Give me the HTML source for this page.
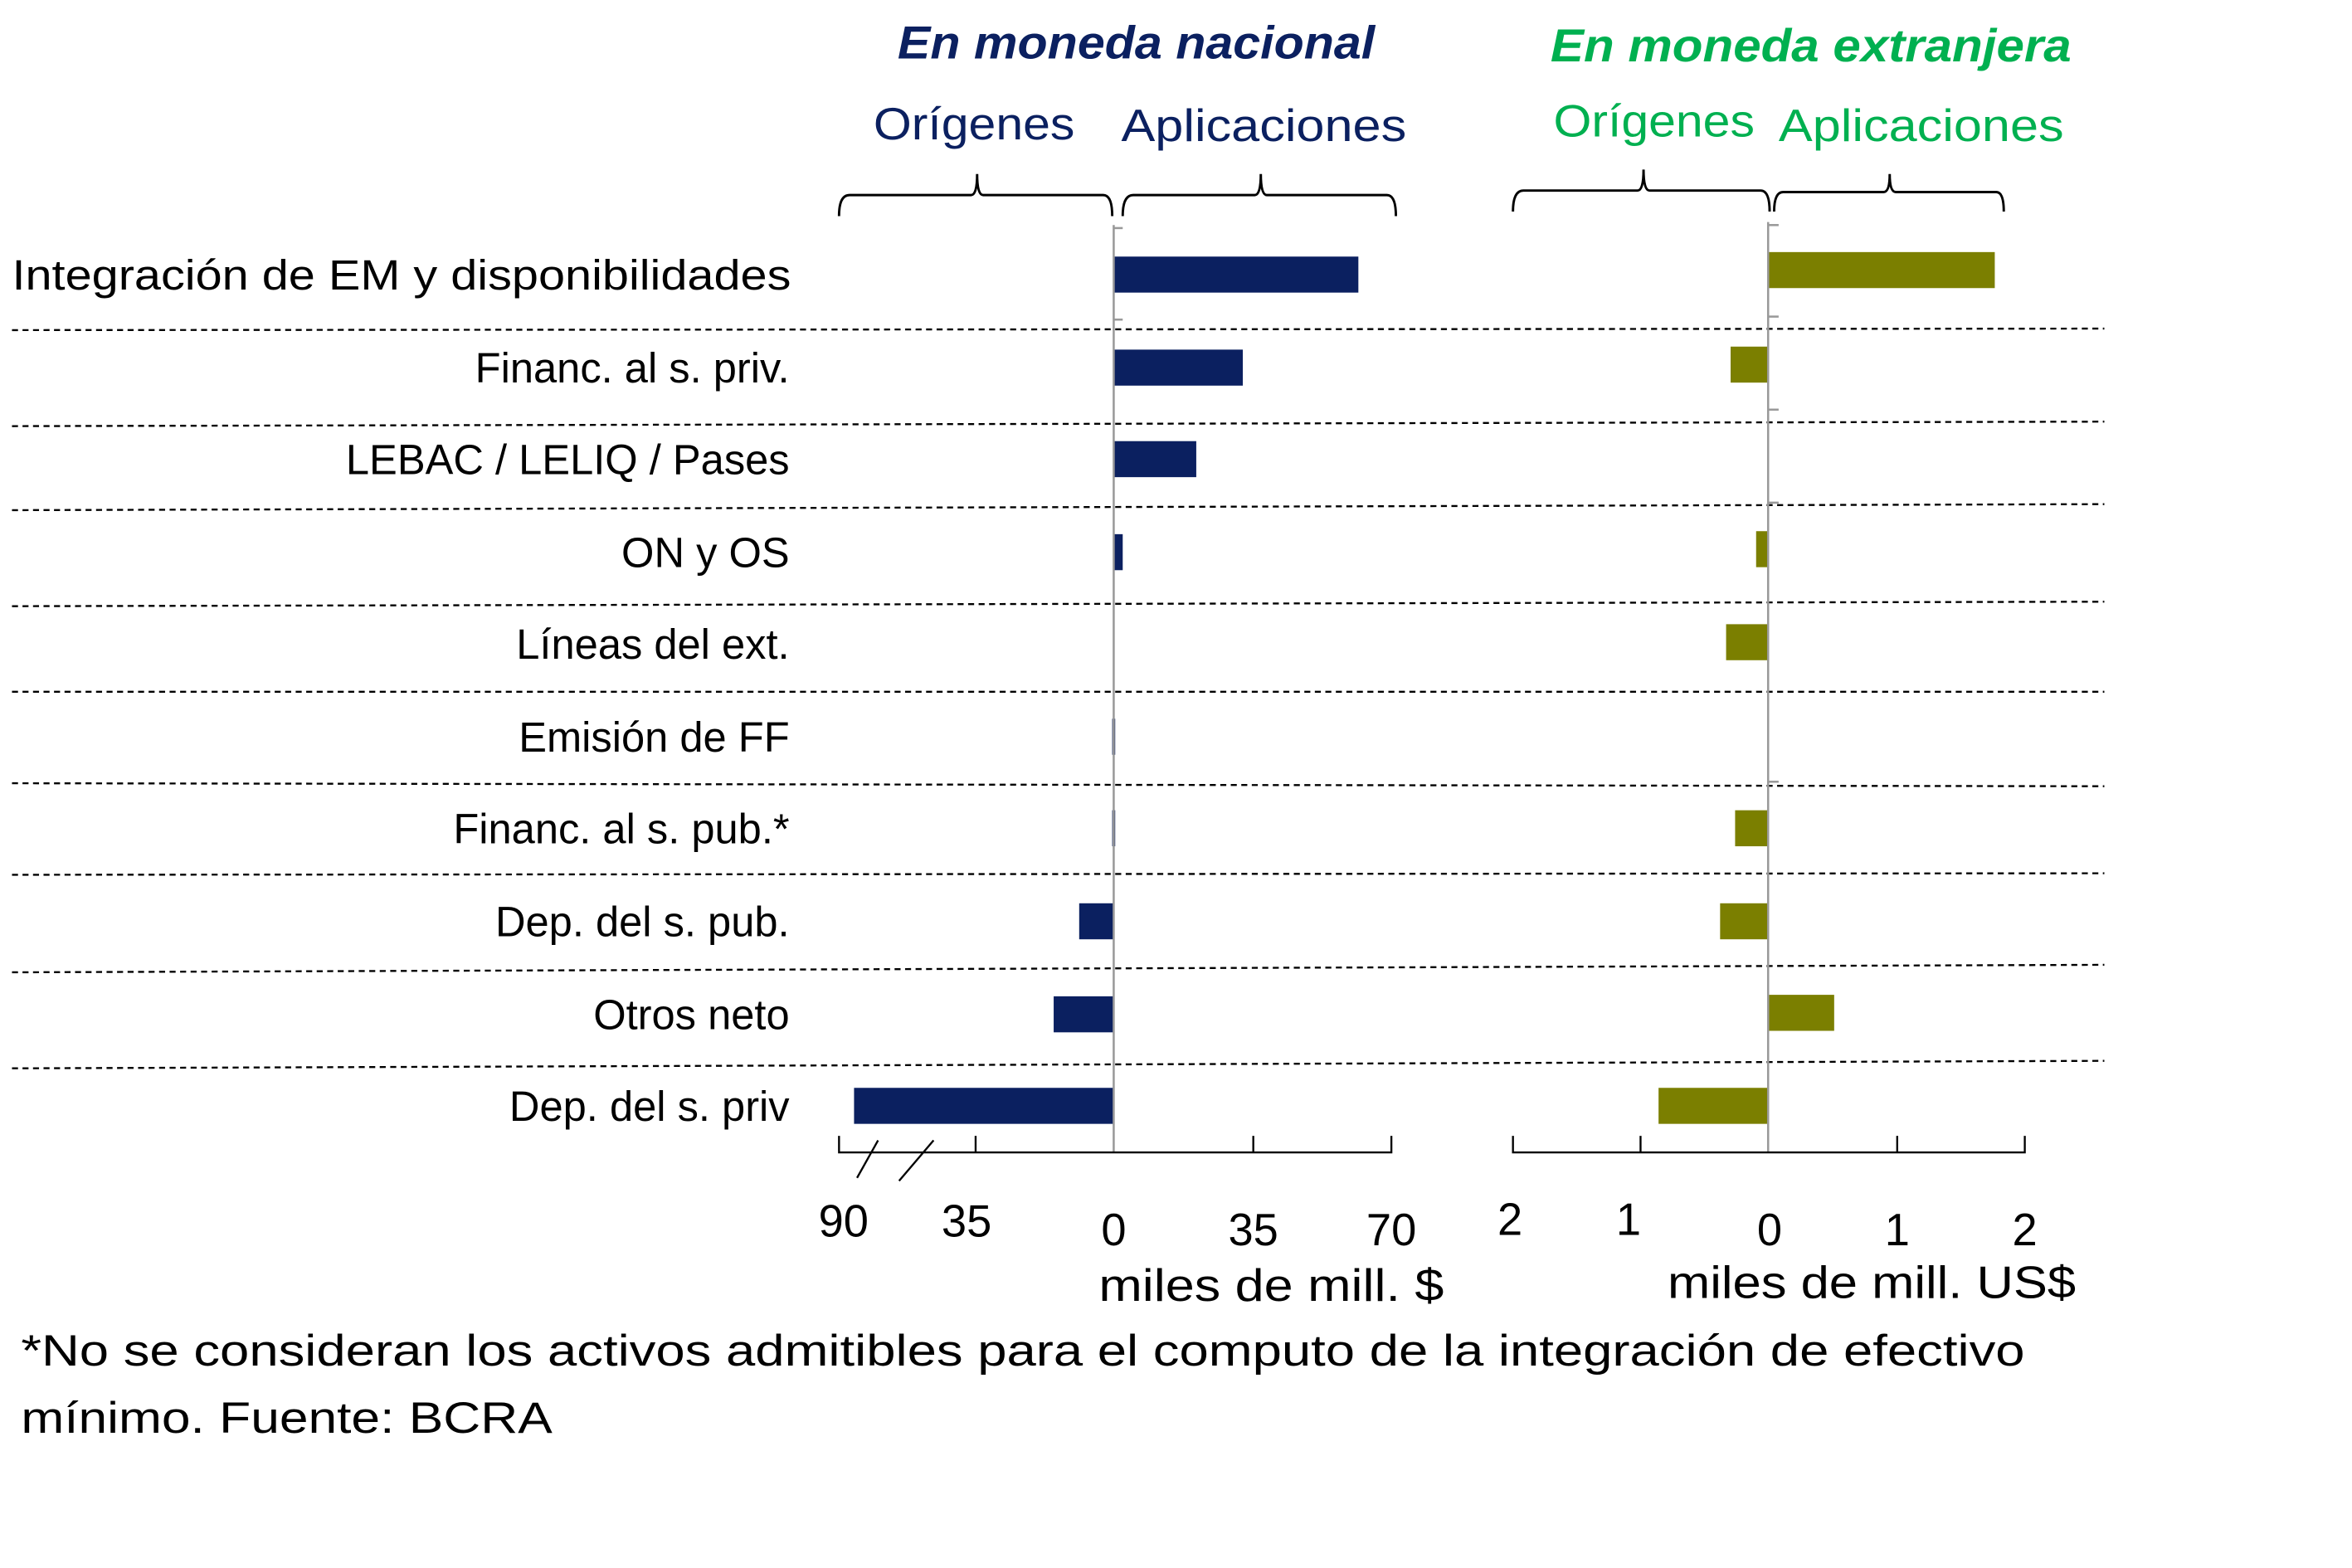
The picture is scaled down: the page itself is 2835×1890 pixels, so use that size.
<!DOCTYPE html>
<html><head><meta charset="utf-8"><style>html,body{margin:0;padding:0;background:#fff}svg{display:block}</style></head>
<body>
<svg width="2835" height="1890" viewBox="0 0 1567 1045" preserveAspectRatio="none" xmlns="http://www.w3.org/2000/svg" font-family="Liberation Sans, DejaVu Sans, sans-serif">
<g font-style="italic" font-weight="bold" font-size="31">
<text x="598" y="39" fill="#0b2060" textLength="318" lengthAdjust="spacingAndGlyphs">En moneda nacional</text>
<text x="1033" y="41" fill="#00b050" textLength="347" lengthAdjust="spacingAndGlyphs">En moneda extranjera</text>
</g>
<g font-size="30">
<text x="582" y="93" fill="#0b2060" textLength="134" lengthAdjust="spacingAndGlyphs">Orígenes</text>
<text x="747" y="94" fill="#0b2060" textLength="190" lengthAdjust="spacingAndGlyphs">Aplicaciones</text>
<text x="1035" y="91" fill="#00b050" textLength="134" lengthAdjust="spacingAndGlyphs">Orígenes</text>
<text x="1185" y="94" fill="#00b050" textLength="190" lengthAdjust="spacingAndGlyphs">Aplicaciones</text>
</g>
<g fill="none" stroke="#000" stroke-width="1.6">
<path d="M559,144 Q559,130 566,130 L647,130 Q651,130 651,116 Q651,130 655,130 L735,130 Q741,130 741,144"/>
<path d="M748,144 Q748,130 755,130 L836,130 Q840,130 840,116 Q840,130 844,130 L924,130 Q930,130 930,144"/>
<path d="M1008,141 Q1008,127 1015,127 L1091,127 Q1095,127 1095,113 Q1095,127 1099,127 L1173,127 Q1179,127 1179,141"/>
<path d="M1182,141 Q1182,128 1188,128 L1255,128 Q1259,128 1259,116 Q1259,128 1263,128 L1330,128 Q1335,128 1335,141"/>
</g>
<g stroke="#000" stroke-width="1.3" stroke-dasharray="4,3">
<line x1="8" y1="220" x2="1402" y2="219"/>
<line x1="8" y1="284" x2="1402" y2="281"/>
<line x1="8" y1="340" x2="1402" y2="336"/>
<line x1="8" y1="404" x2="1402" y2="401"/>
<line x1="8" y1="461" x2="1402" y2="461"/>
<line x1="8" y1="522" x2="1402" y2="524"/>
<line x1="8" y1="583" x2="1402" y2="582"/>
<line x1="8" y1="648" x2="1402" y2="643"/>
<line x1="8" y1="712" x2="1402" y2="707"/>
</g>
<g fill="#0b2060">
<rect x="742" y="171" width="163" height="24"/>
<rect x="742" y="233" width="86" height="24"/>
<rect x="742" y="294" width="55" height="24"/>
<rect x="742" y="356" width="6" height="24"/>
<rect x="741" y="479" width="2" height="24"/>
<rect x="741" y="540" width="2" height="24"/>
<rect x="719" y="602" width="23" height="24"/>
<rect x="702" y="664" width="40" height="24"/>
<rect x="569" y="725" width="173" height="24"/>
</g>
<g fill="#7b7f00">
<rect x="1178" y="168" width="151" height="24"/>
<rect x="1153" y="231" width="25" height="24"/>
<rect x="1170" y="354" width="8" height="24"/>
<rect x="1150" y="416" width="28" height="24"/>
<rect x="1156" y="540" width="22" height="24"/>
<rect x="1146" y="602" width="32" height="24"/>
<rect x="1178" y="663" width="44" height="24"/>
<rect x="1105" y="725" width="73" height="24"/>
</g>
<g stroke="#999" stroke-width="1.4">
<line x1="742" y1="150" x2="742" y2="768"/>
<line x1="1178" y1="148" x2="1178" y2="768"/>
<line x1="742" y1="152" x2="748" y2="152"/><line x1="742" y1="213" x2="748" y2="213"/>
<line x1="1178" y1="150" x2="1185" y2="150"/><line x1="1178" y1="211" x2="1185" y2="211"/><line x1="1178" y1="273" x2="1185" y2="273"/><line x1="1178" y1="335" x2="1185" y2="335"/><line x1="1178" y1="521" x2="1185" y2="521"/>
</g>
<g stroke="#000" stroke-width="1.3" fill="none">
<path d="M559,757 V768 H927 V757 M650,757 V768 M835,757 V768"/>
<path d="M1008,757 V768 H1349 V757 M1093,757 V768 M1264,757 V768"/>
<line x1="571" y1="785" x2="585" y2="760"/>
<line x1="599" y1="787" x2="622" y2="760"/>
</g>
<text x="8" y="193" font-size="28" fill="#000" text-anchor="start" textLength="519" lengthAdjust="spacingAndGlyphs">Integración de EM y disponibilidades</text>
<g font-size="28" fill="#000" text-anchor="end">
<text x="526" y="255">Financ. al s. priv.</text>
<text x="526" y="316">LEBAC / LELIQ / Pases</text>
<text x="526" y="378">ON y OS</text>
<text x="526" y="439">Líneas del ext.</text>
<text x="526" y="501">Emisión de FF</text>
<text x="526" y="562">Financ. al s. pub.*</text>
<text x="526" y="624">Dep. del s. pub.</text>
<text x="526" y="686">Otros neto</text>
<text x="526" y="747">Dep. del s. priv</text>
</g>
<g font-size="30" fill="#000" text-anchor="middle">
<text x="562" y="824">90</text><text x="644" y="824">35</text><text x="742" y="830">0</text><text x="835" y="830">35</text><text x="927" y="830">70</text>
<text x="1006" y="823">2</text><text x="1085" y="823">1</text><text x="1179" y="830">0</text><text x="1264" y="830">1</text><text x="1349" y="830">2</text>
<text x="847" y="867" textLength="230" lengthAdjust="spacingAndGlyphs">miles de mill. $</text>
<text x="1247" y="865" textLength="272" lengthAdjust="spacingAndGlyphs">miles de mill. US$</text>
</g>
<g font-size="29" fill="#000">
<text x="14" y="910" textLength="1335" lengthAdjust="spacingAndGlyphs">*No se consideran los activos admitibles para el computo de la integración de efectivo</text>
<text x="14" y="955" textLength="354" lengthAdjust="spacingAndGlyphs">mínimo.  Fuente: BCRA</text>
</g>
</svg>
</body></html>
